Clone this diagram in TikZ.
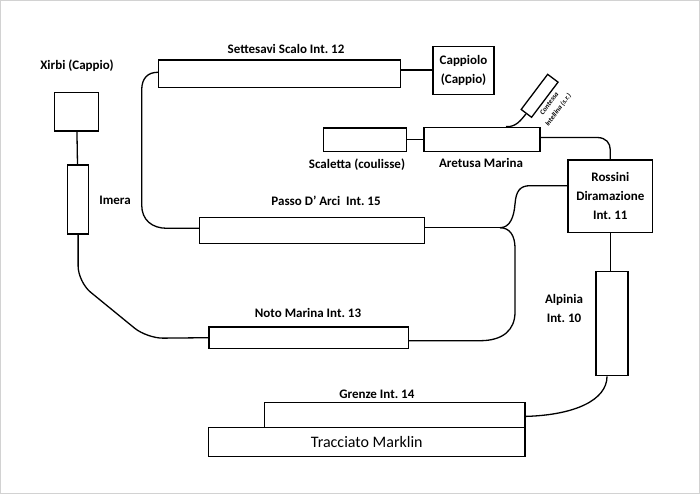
\documentclass[tikz,border=0pt]{standalone}
\usepackage{fontspec}
\setmainfont{Carlito}
\begin{document}
\frenchspacing
\begin{tikzpicture}[x=1pt,y=-1pt,
  blk/.style 2 args={draw, line width=1.3pt, inner sep=0pt, minimum width=#1pt, minimum height=#2pt},
  lbl/.style={inner sep=0pt, font=\bfseries\fontsize{13}{19}\selectfont, align=center},
  big/.style={font=\fontsize{16}{19}\selectfont},
  tiny/.style={inner sep=0pt, font=\bfseries\itshape\fontsize{7}{11}\selectfont, align=center},
  track/.style={line width=1.3pt}
]
\useasboundingbox (0,0) rectangle (700,494);
\draw[gray!35, line width=1pt] (0.5,0.5) rectangle (699.5,493.5);

% boxes
\node[blk={44}{38.7}] (xirbi) at (76.6,111.7) {};
\node[blk={21.4}{69}] (imera) at (78.1,199.5) {};
\node[blk={242}{27.3}] (settesavi) at (279.5,73.7) {};
\node[blk={61}{48}, lbl] (cappiolo) at (463.5,70.7) {Cappiolo\\(Cappio)};
\node[blk={83}{23.3}] (scaletta) at (365.2,139.7) {};
\node[blk={116}{24.4}] (aretusa) at (482,139.5) {};
\node[blk={44}{13}, rotate=53] (contessa) at (539.6,95.8) {};
\node[blk={84.7}{72.3}, lbl] (rossini) at (610.3,196.2) {Rossini\\Diramazione\\Int. 11};
\node[blk={225}{26.4}] (passo) at (312,230.5) {};
\node[blk={199.5}{21.3}] (noto) at (308.7,337.7) {};
\node[blk={32}{104}] (alpinia) at (612,323.7) {};
\node[blk={260.7}{24.8}] (grenze) at (394.7,414.9) {};
\node[blk={316.5}{29.4}, big] (tracciato) at (366.8,442) {Tracciato Marklin};

% labels
\node[lbl] (lxirbi) at (77,65.7) {Xirbi (Cappio)};
\node[lbl] (limera) at (115,200.7) {Imera};
\node[lbl] (lsette) at (286,49) {Settesavi Scalo Int. 12};
\node[lbl] (lscal) at (357,165) {Scaletta (coulisse)};
\node[lbl] (laret) at (481,163.3) {Aretusa Marina};
\node[lbl] (lpasso) at (326,200.7) {Passo D’ Arci \ Int. 15};
\node[lbl] (lnoto) at (308,313.3) {Noto Marina Int. 13};
\node[lbl] (lalp) at (564,308.8) {Alpinia\\Int. 10};
\node[lbl] (lgren) at (376.8,394) {Grenze Int. 14};
\node[tiny, rotate=53] (lcont) at (554,107) {Contessa\\Intellina (s.r.)};

% junction
\coordinate (J) at (500,227.7);

% connectors
\draw[track] (xirbi) -- (imera);
\draw[track, rounded corners=16pt] (imera.south) -- (78.1,282) -- (147,338.3) -- (noto.west);
\draw[track] ([yshift=-3pt]noto.east) -- (480,340.7)
   .. controls (503,340.7) and (515,330) .. (515,312)
   -- (515,248) .. controls (515,236) and (510,227.7) .. (J);
\draw[track] (passo.east |- J) -- (J);
\draw[track] (J) .. controls (510,227.7) and (514,217) .. (515,204)
   .. controls (516,191) and (520,185.7) .. (530,185.7) -- ([yshift=10.5pt]rossini.west);
\draw[track] (settesavi.west |- 0,72.3) .. controls (148,72.3) and (141.7,78) .. (141.7,90)
   -- (141.7,205) .. controls (141.7,220) and (152,228.3) .. (167,228.3) -- (passo.west |- 0,228.3);
\draw[track] (settesavi.east |- 0,70) -- (cappiolo.west |- 0,70);
\draw[track] (scaletta.east) -- (aretusa.west |- scaletta.east);
\draw[track] ([yshift=2pt]aretusa.east) -- (597,137.5)
   .. controls (606,137.5) and (610.3,143) .. (610.3,150) -- (rossini.north);
\draw[track] (contessa.west) .. controls (521,120) and (516,127.3) .. ([xshift=24pt]aretusa.north);
\draw[track] (rossini.south) -- (rossini.south |- alpinia.north);
\draw[track] ([xshift=-5pt]alpinia.south) .. controls (607,400) and (575,415) .. ([yshift=-1.5pt]grenze.east);
\end{tikzpicture}
\end{document}
